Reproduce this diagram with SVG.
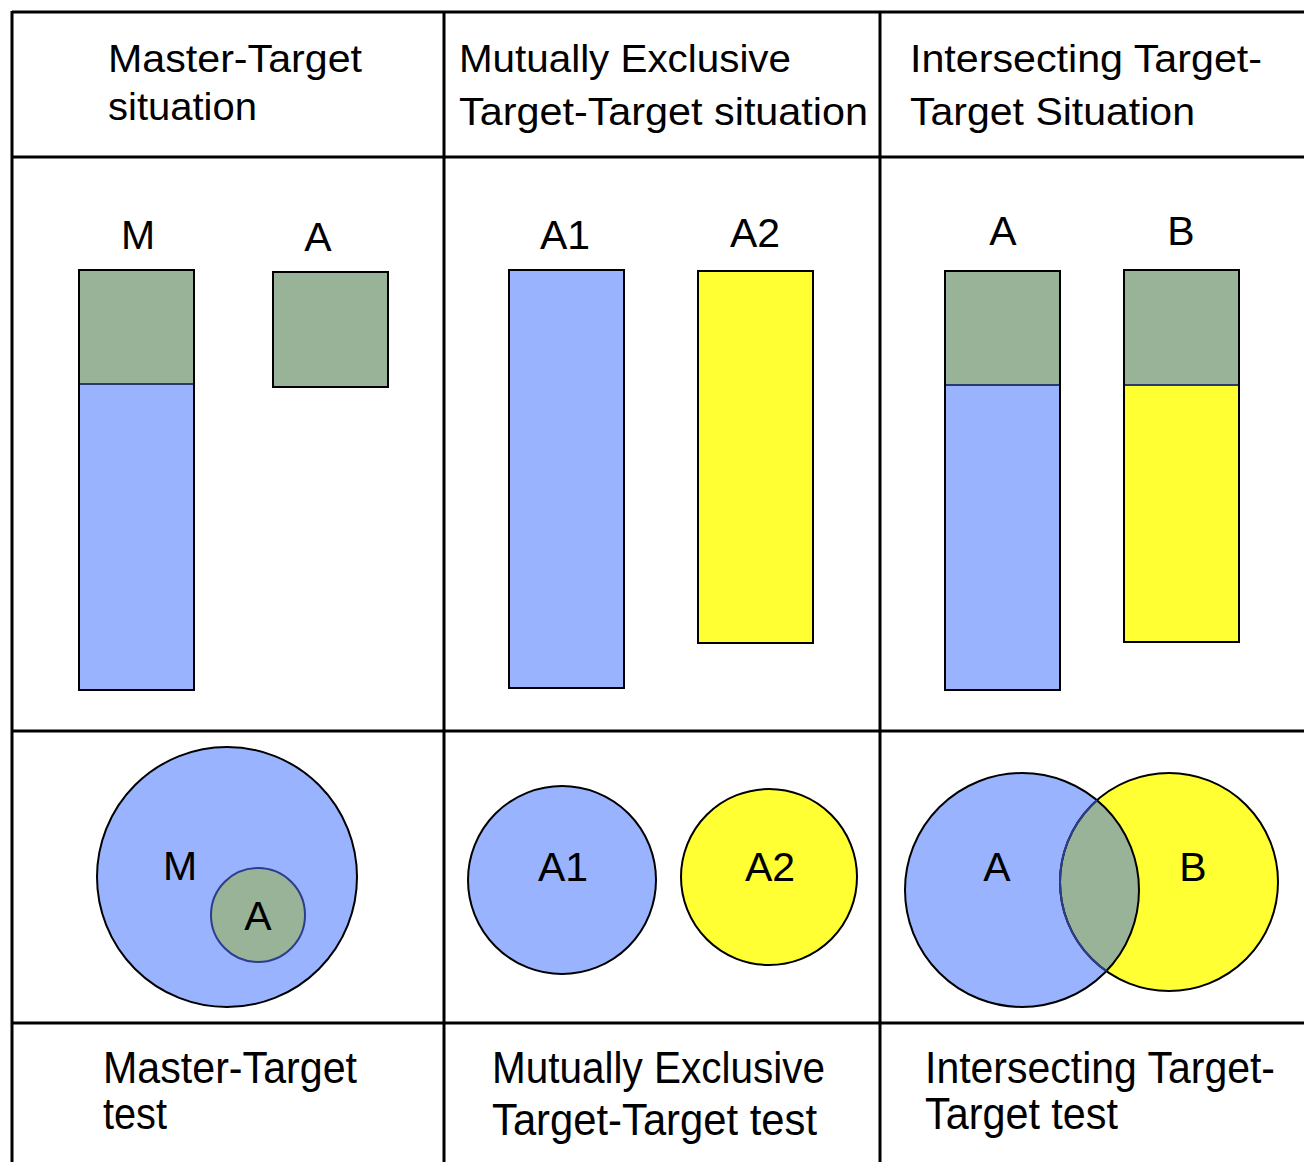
<svg xmlns="http://www.w3.org/2000/svg" width="1304" height="1162" viewBox="0 0 1304 1162">
  <style>
    .bg { fill: #ffffff; }
    .grid line { stroke: #000000; stroke-width: 3; }
    .txt { font-family: "Liberation Sans", Arial, sans-serif; fill: #000000; }
    .head { font-size: 38px; }
    .foot { font-size: 44px; }
    .lbl { font-size: 41px; text-anchor: middle; }
    .blue { fill: #99b3ff; }
    .green { fill: #99b399; }
    .yellow { fill: #ffff33; }
    .edge { fill: none; stroke: #000000; stroke-width: 2; }
    .inner { fill: none; stroke: #2b3d8c; stroke-width: 2; }
    .split { stroke: #2b3a6e; stroke-width: 2; }
  </style>
  <defs>
    <clipPath id="clipA">
      <circle cx="1022" cy="890" r="117"/>
    </clipPath>
  </defs>

  <rect class="bg" x="0" y="0" width="1304" height="1162"/>

  <!-- table rules -->
  <g id="grid" class="grid">
    <line x1="12" y1="12" x2="1304" y2="12"/>
    <line x1="12" y1="157" x2="1304" y2="157"/>
    <line x1="12" y1="731" x2="1304" y2="731"/>
    <line x1="12" y1="1023" x2="1304" y2="1023"/>
    <line x1="12" y1="11" x2="12" y2="1162"/>
    <line x1="444" y1="11" x2="444" y2="1162"/>
    <line x1="880" y1="11" x2="880" y2="1162"/>
  </g>

  <!-- header row -->
  <g id="head-master" class="txt head">
    <text x="108" y="72" textLength="254" lengthAdjust="spacingAndGlyphs">Master-Target</text>
    <text x="108" y="120" textLength="149" lengthAdjust="spacingAndGlyphs">situation</text>
  </g>
  <g id="head-exclusive" class="txt head">
    <text x="459" y="72" textLength="332" lengthAdjust="spacingAndGlyphs">Mutually Exclusive</text>
    <text x="459" y="125" textLength="409" lengthAdjust="spacingAndGlyphs">Target-Target situation</text>
  </g>
  <g id="head-intersecting" class="txt head">
    <text x="910" y="72" textLength="352" lengthAdjust="spacingAndGlyphs">Intersecting Target-</text>
    <text x="910" y="125" textLength="285" lengthAdjust="spacingAndGlyphs">Target Situation</text>
  </g>

  <!-- bars: master-target -->
  <g id="bar-M">
    <text class="txt lbl" x="138" y="249">M</text>
    <rect class="green" x="79" y="270" width="115" height="114"/>
    <rect class="blue" x="79" y="384" width="115" height="306"/>
    <line class="split" x1="79" y1="384" x2="194" y2="384"/>
    <rect class="edge" x="79" y="270" width="115" height="420"/>
  </g>
  <g id="bar-A">
    <text class="txt lbl" x="318" y="251">A</text>
    <rect class="green" x="273" y="272" width="115" height="115"/>
    <rect class="edge" x="273" y="272" width="115" height="115"/>
  </g>

  <!-- bars: mutually exclusive -->
  <g id="bar-A1">
    <text class="txt lbl" x="565" y="249">A1</text>
    <rect class="blue" x="509" y="270" width="115" height="418"/>
    <rect class="edge" x="509" y="270" width="115" height="418"/>
  </g>
  <g id="bar-A2">
    <text class="txt lbl" x="755" y="247">A2</text>
    <rect class="yellow" x="698" y="271" width="115" height="372"/>
    <rect class="edge" x="698" y="271" width="115" height="372"/>
  </g>

  <!-- bars: intersecting -->
  <g id="bar-IA">
    <text class="txt lbl" x="1003" y="245">A</text>
    <rect class="green" x="945" y="271" width="115" height="114"/>
    <rect class="blue" x="945" y="385" width="115" height="305"/>
    <line class="split" x1="945" y1="385" x2="1060" y2="385"/>
    <rect class="edge" x="945" y="271" width="115" height="419"/>
  </g>
  <g id="bar-IB">
    <text class="txt lbl" x="1181" y="245">B</text>
    <rect class="green" x="1124" y="270" width="115" height="115"/>
    <rect class="yellow" x="1124" y="385" width="115" height="257"/>
    <line class="split" x1="1124" y1="385" x2="1239" y2="385"/>
    <rect class="edge" x="1124" y="270" width="115" height="372"/>
  </g>

  <!-- set diagrams: master-target -->
  <g id="set-M">
    <circle class="blue" cx="227" cy="877" r="130"/>
    <circle class="edge" cx="227" cy="877" r="130"/>
    <text class="txt lbl" x="180" y="880">M</text>
  </g>
  <g id="set-A">
    <circle class="green" cx="258" cy="915" r="47"/>
    <circle class="inner" cx="258" cy="915" r="47"/>
    <text class="txt lbl" x="258" y="930">A</text>
  </g>

  <!-- set diagrams: mutually exclusive -->
  <g id="set-A1">
    <circle class="blue" cx="562" cy="880" r="94"/>
    <circle class="edge" cx="562" cy="880" r="94"/>
    <text class="txt lbl" x="563" y="881">A1</text>
  </g>
  <g id="set-A2">
    <circle class="yellow" cx="769" cy="877" r="88"/>
    <circle class="edge" cx="769" cy="877" r="88"/>
    <text class="txt lbl" x="770" y="881">A2</text>
  </g>

  <!-- set diagrams: intersecting (lens = B clipped to A) -->
  <g id="set-IA">
    <circle class="blue" cx="1022" cy="890" r="117"/>
  </g>
  <g id="set-IB">
    <circle class="yellow" cx="1169" cy="882" r="109"/>
    <circle class="green" cx="1169" cy="882" r="109" clip-path="url(#clipA)"/>
    <circle class="edge" cx="1169" cy="882" r="109"/>
    <circle class="edge" cx="1022" cy="890" r="117"/>
    <circle class="inner" cx="1169" cy="882" r="109" clip-path="url(#clipA)"/>
    <text class="txt lbl" x="997" y="881">A</text>
    <text class="txt lbl" x="1193" y="881">B</text>
  </g>

  <!-- footer row -->
  <g id="foot-master" class="txt foot">
    <text x="103" y="1083" textLength="254" lengthAdjust="spacingAndGlyphs">Master-Target</text>
    <text x="103" y="1129" textLength="64" lengthAdjust="spacingAndGlyphs">test</text>
  </g>
  <g id="foot-exclusive" class="txt foot">
    <text x="492" y="1083" textLength="333" lengthAdjust="spacingAndGlyphs">Mutually Exclusive</text>
    <text x="492" y="1135" textLength="325" lengthAdjust="spacingAndGlyphs">Target-Target test</text>
  </g>
  <g id="foot-intersecting" class="txt foot">
    <text x="925" y="1083" textLength="350" lengthAdjust="spacingAndGlyphs">Intersecting Target-</text>
    <text x="925" y="1129" textLength="193" lengthAdjust="spacingAndGlyphs">Target test</text>
  </g>
</svg>
